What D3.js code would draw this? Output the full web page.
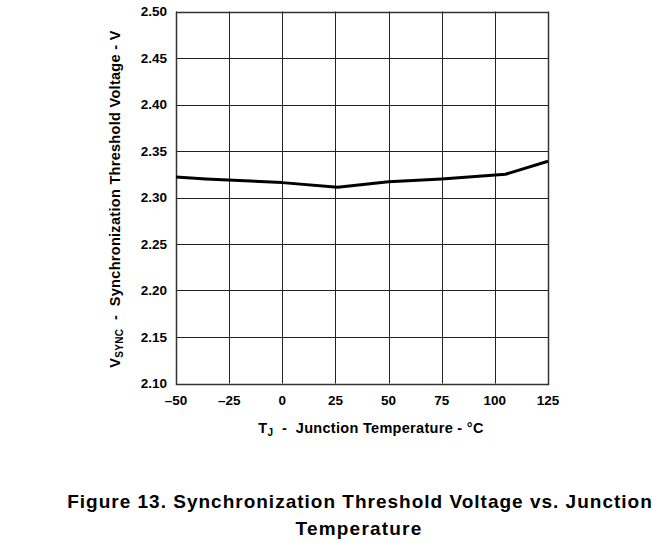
<!DOCTYPE html>
<html>
<head>
<meta charset="utf-8" />
<script src="https://d3js.org/d3.v7.min.js"></script>
<style>
  body { margin: 0; background: #fff; }
  text { font-family: "Liberation Sans", Arial, sans-serif; font-weight: bold; fill: #000; white-space: pre; }
</style>
</head>
<body>
<div id="chart"></div>
<script>
// valeurs
var tempC = [-50, -36, 0, 26, 50, 75, 105, 125];
var vsync = [2.322, 2.320, 2.316, 2.311, 2.317, 2.320, 2.325, 2.339];

var xTicks = [-50, -25, 0, 25, 50, 75, 100, 125];
var yTicks = [2.10, 2.15, 2.20, 2.25, 2.30, 2.35, 2.40, 2.45, 2.50];

var W = 669, H = 550;
var plotL = 176, plotR = 548, plotT = 11.5, plotB = 383.5;

var svg = d3.select("#chart").append("svg")
    .attr("width", W).attr("height", H);

var x = d3.scaleLinear().domain([-50, 125]).range([plotL, plotR]);
var y = d3.scaleLinear().domain([2.10, 2.50]).range([plotB, plotT]);

// grille
svg.append("g").selectAll("line")
    .data(xTicks).enter().append("line")
    .attr("x1", d => Math.round(x(d)) + 0.5).attr("x2", d => Math.round(x(d)) + 0.5)
    .attr("y1", plotT).attr("y2", plotB)
    .attr("stroke", "#222").attr("stroke-width", 1);

svg.append("g").selectAll("line")
    .data(yTicks).enter().append("line")
    .attr("x1", plotL).attr("x2", plotR)
    .attr("y1", d => Math.round(y(d)) + 0.5).attr("y2", d => Math.round(y(d)) + 0.5)
    .attr("stroke", "#222").attr("stroke-width", 1);

// cadre
svg.append("rect")
    .attr("x", plotL + 0.5).attr("y", Math.round(plotT) + 0.5)
    .attr("width", plotR - plotL).attr("height", Math.round(plotB) - Math.round(plotT))
    .attr("fill", "none").attr("stroke", "#333").attr("stroke-width", 1.5);

// courbe
var line = d3.line()
    .x((d, i) => x(tempC[i]))
    .y(d => y(d));

svg.append("path")
    .datum(vsync)
    .attr("d", line)
    .attr("fill", "none")
    .attr("stroke", "#000")
    .attr("stroke-width", 3)
    .attr("stroke-linejoin", "round");

// labels axe Y
svg.append("g").selectAll("text")
    .data(yTicks).enter().append("text")
    .attr("x", 167).attr("y", d => y(d) + 4.5)
    .attr("text-anchor", "end")
    .style("font-size", "13.5px")
    .text(d => d.toFixed(2));

// labels axe X
svg.append("g").selectAll("text")
    .data(xTicks).enter().append("text")
    .attr("x", d => x(d)).attr("y", 405)
    .attr("text-anchor", "middle")
    .style("font-size", "13.5px")
    .text(d => d < 0 ? "\u2013" + Math.abs(d) : d);

// titre axe X
var xt = svg.append("text")
    .attr("x", 371).attr("y", 433)
    .attr("text-anchor", "middle")
    .style("font-size", "14.5px")
    .style("letter-spacing", "0.3px");
xt.append("tspan").text("T");
xt.append("tspan").attr("dy", 3).style("font-size", "10px").text("J");
xt.append("tspan").attr("dy", -3).text("  -  Junction Temperature - \u00b0C");

// titre axe Y
var yt = svg.append("text")
    .attr("transform", "translate(120,199) rotate(-90)")
    .attr("text-anchor", "middle")
    .style("font-size", "14.5px")
    .style("letter-spacing", "0.3px");
yt.append("tspan").text("V");
yt.append("tspan").attr("dy", 3).style("font-size", "10px").text("SYNC");
yt.append("tspan").attr("dy", -3).text("  -  Synchronization Threshold Voltage - V");

// légende de figure
svg.append("text")
    .attr("x", 360).attr("y", 508)
    .attr("text-anchor", "middle")
    .style("font-size", "19px").style("letter-spacing", "1px")
    .text("Figure 13. Synchronization Threshold Voltage vs. Junction");
svg.append("text")
    .attr("x", 359).attr("y", 535)
    .attr("text-anchor", "middle")
    .style("font-size", "19px").style("letter-spacing", "1.2px")
    .text("Temperature");
</script>
</body>
</html>
